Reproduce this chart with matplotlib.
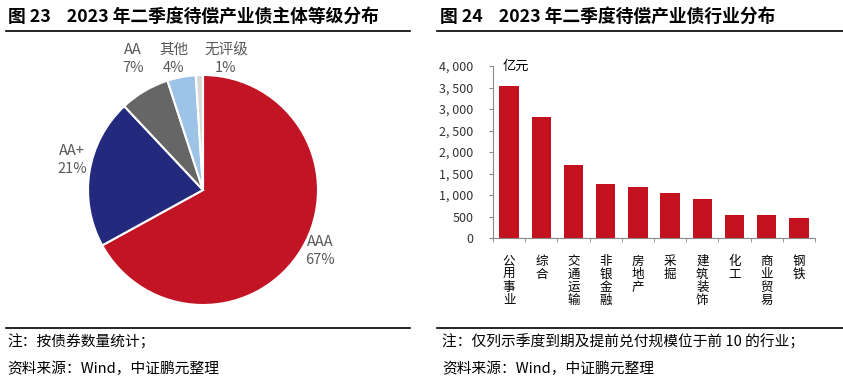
import matplotlib.pyplot as plt
import numpy as np
from matplotlib.ticker import FuncFormatter

plt.rcParams['font.family'] = ['Noto Sans CJK SC', 'DejaVu Sans']

# pie data
grades = ['AAA', 'AA+', 'AA', '其他', '无评级']
shares = [67, 21, 7, 4, 1]
pie_colors = ['#C31425', '#232A7E', '#666666', '#9DC3E6', '#D9D9D9']

# bar data
industries = ['公用事业', '综合', '交通运输', '非银金融', '房地产', '采掘', '建筑装饰', '化工', '商业贸易', '钢铁']
amounts = [3530, 2810, 1700, 1245, 1190, 1035, 900, 540, 525, 470]

W, H = 843, 388
fig = plt.figure(figsize=(W / 100, H / 100), dpi=100)

def fx(px):
    return px / W

def fy(py):
    return 1 - py / H

# titles and rules
fig.text(fx(8), fy(17), '图 23    2023 年二季度待偿产业债主体等级分布', fontsize=12.8,
         fontweight='bold', va='center', ha='left')
fig.text(fx(440), fy(17), '图 24    2023 年二季度待偿产业债行业分布', fontsize=12.8,
         fontweight='bold', va='center', ha='left')
for x0, x1 in [(6, 410), (437, 843)]:
    fig.add_artist(plt.Line2D([fx(x0), fx(x1)], [fy(31), fy(31)], color='black', lw=1.2))
    fig.add_artist(plt.Line2D([fx(x0), fx(x1)], [fy(328), fy(328)], color='black', lw=1.2))

fig.text(fx(7), fy(342), '注：按债券数量统计；', fontsize=10.6, va='center')
fig.text(fx(7), fy(369), '资料来源：Wind，中证鹏元整理', fontsize=10.6, va='center')
fig.text(fx(442), fy(342), '注：仅列示季度到期及提前兑付规模位于前 10 的行业；', fontsize=10.6, va='center')
fig.text(fx(442), fy(369), '资料来源：Wind，中证鹏元整理', fontsize=10.6, va='center')

# pie
cx, cy, r = 203, 190, 115
ax1 = fig.add_axes([fx(cx - r), fy(cy + r), 2 * r / W, 2 * r / H])
ax1.pie(shares, colors=pie_colors, startangle=90, counterclock=False,
        wedgeprops=dict(edgecolor='white', linewidth=1.5), radius=1)
ax1.set_xlim(-1, 1)
ax1.set_ylim(-1, 1)
ax1.set_aspect('auto')
ax1.axis('off')

label_pos = {'AAA': (320, 251), 'AA+': (72, 160), 'AA': (133, 59), '其他': (174, 59), '无评级': (226, 59)}
for g, s in zip(grades, shares):
    px, py = label_pos[g]
    fig.text(fx(px), fy(py), f'{g}\n{s}%', fontsize=10.5, color='#595959',
             ha='center', va='center', linespacing=1.35)

# bars
ax2 = fig.add_axes([fx(493), fy(238), (815 - 493) / W, (238 - 66) / H])
x = np.arange(len(industries))
ax2.bar(x, amounts, width=0.6, color='#C3111F')
ax2.set_ylim(0, 4000)
ax2.set_xlim(-0.5, len(industries) - 0.5)
ax2.set_yticks(np.arange(0, 4001, 500))
ax2.yaxis.set_major_formatter(FuncFormatter(lambda v, p: f'{int(v):,}'.replace(',', ', ')))
ax2.set_xticks(x)
ax2.set_xticklabels(['\n'.join(s) for s in industries], fontsize=9, va='top', linespacing=1.0)
ax2.set_xticks(np.arange(-0.5, len(industries)), minor=True)
ax2.tick_params(axis='x', which='major', length=0, pad=12)
ax2.tick_params(axis='x', which='minor', length=3, color='#888888')
ax2.tick_params(axis='y', length=3, color='#888888', labelsize=9, labelcolor='#333333', pad=11)
for sp in ['top', 'right']:
    ax2.spines[sp].set_visible(False)
for sp in ['left', 'bottom']:
    ax2.spines[sp].set_color('#888888')
ax2.text(0.03, 1.0, '亿元', transform=ax2.transAxes, fontsize=9.5, va='center', ha='left')

fig.savefig('out.png', dpi=100)
